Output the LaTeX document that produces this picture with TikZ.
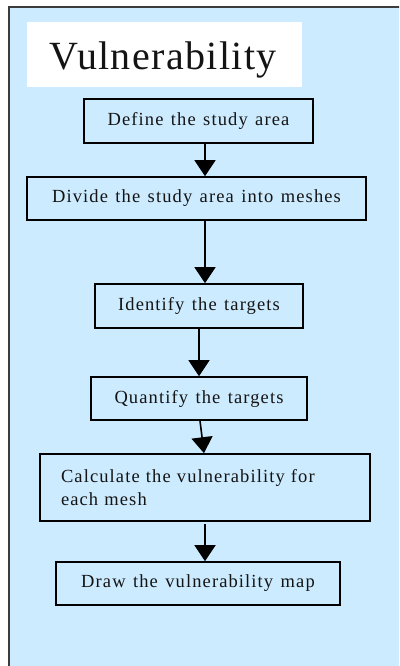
\documentclass[tikz,border=0pt]{standalone}
\usepackage{fontspec}
\setmainfont{Liberation Serif}[LetterSpace=6.0, WordSpace=1.3]
\newfontfamily\titlefont{Liberation Serif}[LetterSpace=3.5]
\usetikzlibrary{arrows.meta}
\definecolor{panelblue}{RGB}{204,235,255}
\definecolor{panelrule}{RGB}{60,60,60}
\definecolor{inktext}{RGB}{20,20,20}
\tikzset{
  stepbox/.style={draw=black, line width=1.6pt, fill=panelblue, inner sep=0pt,
    text=inktext, font=\fontsize{18.5}{23}\selectfont},
  flow/.style={line width=1.6pt, -{Triangle[width=21pt,length=16pt]}},
}
\begin{document}
\begin{tikzpicture}[x=1pt,y=-1pt]
\useasboundingbox (0,0) rectangle (399,666);
% light blue panel, running off the right and bottom edges
\begin{scope}
  \clip (0,0) rectangle (399,666);
  \draw[fill=panelblue, draw=panelrule, line width=1.6pt] (9,7) rectangle (420,690);
\end{scope}
% title plate
\fill[white] (27,22) rectangle (302,87);
\node[anchor=base, inner sep=0pt, text=inktext, font=\titlefont\fontsize{40}{44}\selectfont] (title) at (163,70) {Vulnerability};
% process steps
\node[stepbox, minimum width=229pt, minimum height=44pt] (s1) at (198.5,121) {Define the study area};
\node[stepbox, minimum width=339pt, minimum height=43pt] (s2) at (196.5,198.5) {Divide the study area into meshes};
\node[stepbox, minimum width=208pt, minimum height=44pt] (s3) at (199,306) {Identify the targets};
\node[stepbox, minimum width=216pt, minimum height=43pt] (s4) at (199,398.5) {Quantify the targets};
\node[stepbox, minimum width=330pt, minimum height=67pt, text width=288pt, align=left, inner xsep=21pt] (s5) at (205,487.5) {Calculate the vulnerability for\\ each mesh};
\node[stepbox, minimum width=284pt, minimum height=43pt] (s6) at (198,583.5) {Draw the vulnerability map};
% arrow columns
\coordinate (cA) at (205,0);
\coordinate (cB) at (199,0);
\coordinate (cC) at (200,0);
\coordinate (cD) at (204,0);
\draw[flow] (s1.south -| cA) -- (s2.north -| cA);
\draw[flow] (s2.south -| cA) -- (s3.north -| cA);
\draw[flow] (s3.south -| cB) -- (s4.north -| cB);
\draw[flow] (s4.south -| cC) -- (s5.north -| cD);
\draw[flow] ([yshift=-2pt]s5.south -| cA) -- (s6.north -| cA);
\end{tikzpicture}
\end{document}
